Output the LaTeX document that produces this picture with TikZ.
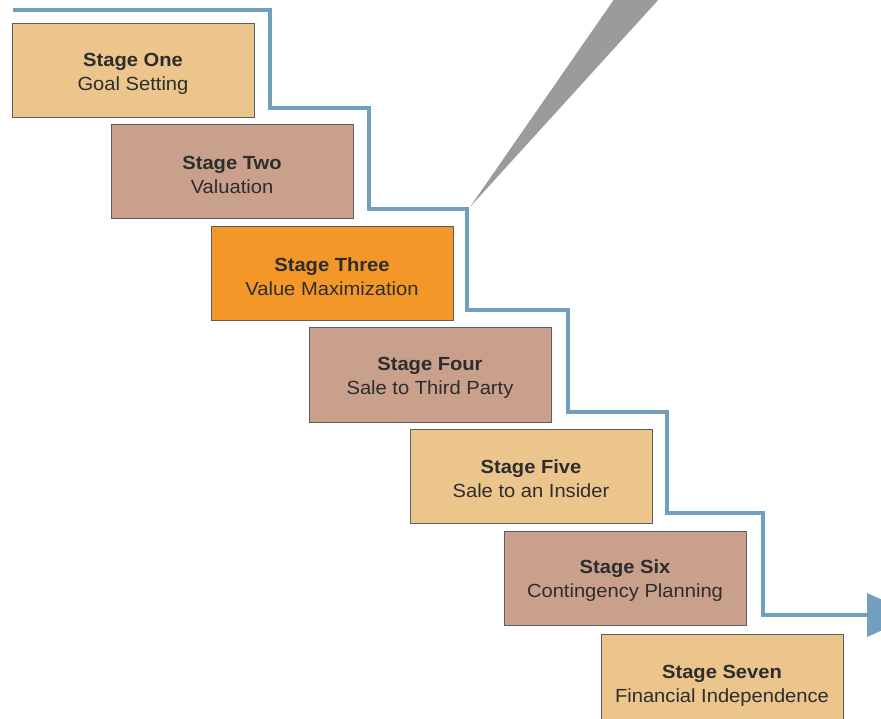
\documentclass[tikz,border=0pt]{standalone}
\usepackage{fontspec}
\setmainfont{Liberation Sans}[FakeStretch=1.06]
\usetikzlibrary{arrows.meta}
\definecolor{tanbox}{RGB}{236,197,140}
\definecolor{rosebox}{RGB}{201,160,139}
\definecolor{orangebox}{RGB}{243,152,40}
\definecolor{pathblue}{RGB}{112,160,190}
\definecolor{wedgegray}{RGB}{155,155,155}
\definecolor{txt}{RGB}{45,45,45}
\definecolor{boxborder}{RGB}{95,95,95}
\tikzset{
  stagebox/.style={draw=boxborder, line width=1pt, minimum width=242pt, minimum height=94pt,
    inner sep=0pt},
  stagetext/.style={inner sep=0pt, align=center, text=txt, font=\fontsize{19}{24}\selectfont},
  stairline/.style={draw=pathblue, line width=4pt, line join=miter},
}
\begin{document}
\begin{tikzpicture}[x=1pt,y=-1pt]
\useasboundingbox (0,0) rectangle (881,719);
\clip (0,0) rectangle (881,719);
% gray wedge
\fill[wedgegray] (470,207) -- (615,-2) -- (660,-2) -- cycle;
% blue stair line
\coordinate (p0) at (13,10);
\coordinate (p1) at (270,10);
\coordinate (p2) at (270,108);
\coordinate (p3) at (369,108);
\coordinate (p4) at (369,209);
\coordinate (p5) at (467,209);
\coordinate (p6) at (467,310);
\coordinate (p7) at (568,310);
\coordinate (p8) at (568,412);
\coordinate (p9) at (667,412);
\coordinate (p10) at (667,513);
\coordinate (p11) at (763,513);
\coordinate (p12) at (763,615);
\coordinate (p13) at (867,615);
\coordinate (pend) at (916,615);
\draw[stairline] (p0) -- (p1) -- (p2) -- (p3) -- (p4) -- (p5) -- (p6) -- (p7) -- (p8) -- (p9) -- (p10) -- (p11) -- (p12) -- (p13);
\fill[pathblue] (867,593) -- (pend) -- (867,637) -- cycle;
% stage boxes
\node[stagebox, fill=tanbox]    (s1) at (133,71)  {};
\node[stagebox, fill=rosebox]   (s2) at (232,172) {};
\node[stagebox, fill=orangebox] (s3) at (332,274) {};
\node[stagebox, fill=rosebox]   (s4) at (430,375) {};
\node[stagebox, fill=tanbox]    (s5) at (531,476) {};
\node[stagebox, fill=rosebox]   (s6) at (625,578) {};
\node[stagebox, fill=tanbox, minimum height=98pt] (s7) at (722,683) {};
% stage texts
\node[stagetext] (t1) at ([yshift=-3pt]s1.center) {{\bfseries Stage One}\\Goal Setting};
\node[stagetext] (t2) at ([yshift=-3pt]s2.center) {{\bfseries Stage Two}\\Valuation};
\node[stagetext] (t3) at ([yshift=-3pt]s3.center) {{\bfseries Stage Three}\\Value Maximization};
\node[stagetext] (t4) at ([yshift=-3pt]s4.center) {{\bfseries Stage Four}\\Sale to Third Party};
\node[stagetext] (t5) at ([yshift=-3pt]s5.center) {{\bfseries Stage Five}\\Sale to an Insider};
\node[stagetext] (t6) at ([yshift=-3pt]s6.center) {{\bfseries Stage Six}\\Contingency Planning};
\node[stagetext] (t7) at ([yshift=-3pt]s7.center) {{\bfseries Stage Seven}\\Financial Independence};
\end{tikzpicture}
\end{document}
